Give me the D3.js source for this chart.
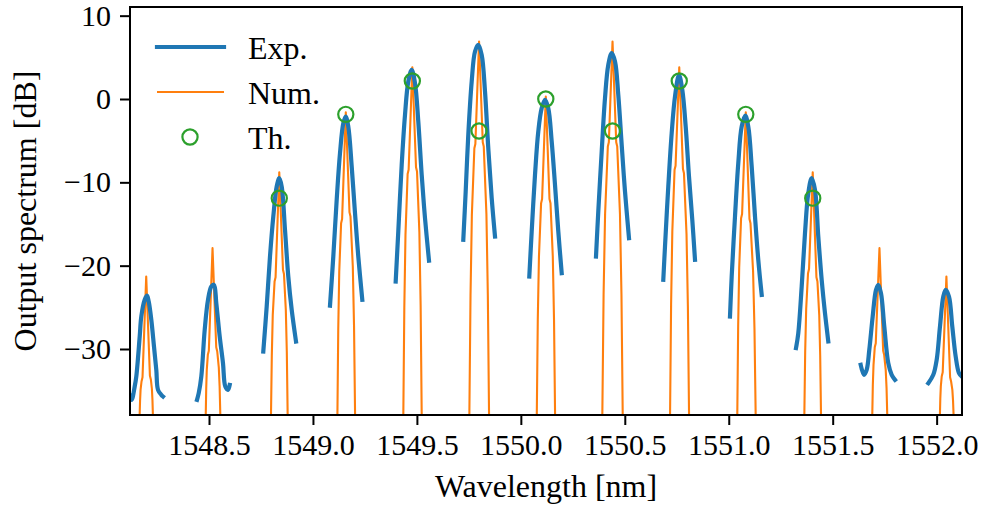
<!DOCTYPE html>
<html><head><meta charset="utf-8">
<script src="https://cdn.jsdelivr.net/npm/d3@7"></script>
<style>
body{margin:0;background:#fff}
svg{display:block}
text{font-family:"Liberation Serif","Times New Roman",serif;fill:#000}
</style>
</head><body>
<svg id="chart" width="988" height="507"></svg>
<script>
// ---------- DATA ----------
const xTicks = [1548.5, 1549.0, 1549.5, 1550.0, 1550.5, 1551.0, 1551.5, 1552.0];
const yTicks = [10, 0, -10, -20, -30];
const seriesNames = ["Exp.", "Num.", "Th."];

// Experimental spectrum: one measured segment around each comb line [wavelength nm, dB]
const expSegments = [
  [[1548.1200,-35.6],[1548.1282,-36.1],[1548.1426,-34.5],[1548.1503,-33.3],[1548.1667,-28.5],[1548.1744,-26.1],[1548.1907,-24.1],[1548.2018,-23.6],[1548.2100,-24.3],[1548.2225,-26.5],[1548.2354,-29.7],[1548.2465,-32.5],[1548.2547,-34.9],[1548.2706,-35.5],[1548.2787,-35.7]],
  [[1548.4423,-36.1],[1548.4505,-35.3],[1548.4630,-33.3],[1548.4793,-27.7],[1548.4952,-24.1],[1548.5111,-22.5],[1548.5241,-22.3],[1548.5351,-24.5],[1548.5515,-28.5],[1548.5673,-31.7],[1548.5784,-34.5],[1548.5914,-34.9],[1548.5996,-34.3]],
  [[1548.7612,-30.3],[1548.7775,-24.9],[1548.7934,-18.9],[1548.8093,-14.1],[1548.8256,-10.5],[1548.8381,-9.5],[1548.8497,-10.5],[1548.8656,-15.7],[1548.8814,-21.3],[1548.8978,-25.3],[1548.9185,-29.1]],
  [[1549.0820,-24.8],[1549.0979,-18.9],[1549.1142,-12.1],[1549.1301,-6.5],[1549.1460,-2.9],[1549.1575,-2.1],[1549.1700,-3.3],[1549.1864,-8.1],[1549.2023,-13.7],[1549.2181,-18.9],[1549.2374,-24.1]],
  [[1549.3980,-21.9],[1549.4105,-15.9],[1549.4269,-7.9],[1549.4428,-1.9],[1549.4586,2.1],[1549.4750,3.5],[1549.4909,1.9],[1549.5067,-2.7],[1549.5231,-9.1],[1549.5390,-14.3],[1549.5582,-19.4]],
  [[1549.7232,-16.9],[1549.7347,-11.1],[1549.7472,-4.3],[1549.7636,2.1],[1549.7795,5.7],[1549.7953,6.5],[1549.8117,5.3],[1549.8276,0.9],[1549.8434,-5.9],[1549.8598,-11.9],[1549.8757,-16.5]],
  [[1550.0407,-21.3],[1550.0522,-15.9],[1550.0681,-9.1],[1550.0839,-3.9],[1550.1003,-1.1],[1550.1162,-0.1],[1550.1320,-1.1],[1550.1484,-5.1],[1550.1643,-10.3],[1550.1802,-15.9],[1550.1965,-20.9]],
  [[1550.3615,-18.9],[1550.3725,-13.5],[1550.3889,-6.3],[1550.4048,0.1],[1550.4206,4.1],[1550.4370,5.5],[1550.4529,4.5],[1550.4687,0.5],[1550.4851,-5.5],[1550.5010,-11.1],[1550.5202,-16.7]],
  [[1550.6852,-21.7],[1550.6934,-17.7],[1550.7092,-10.5],[1550.7256,-4.1],[1550.7415,0.3],[1550.7607,2.9],[1550.7766,1.1],[1550.7929,-3.3],[1550.8088,-9.3],[1550.8247,-14.5],[1550.8377,-19.3]],
  [[1551.0060,-26.1],[1551.0142,-21.3],[1551.0301,-14.1],[1551.0459,-7.7],[1551.0623,-3.3],[1551.0796,-2.0],[1551.0940,-3.3],[1551.1104,-8.1],[1551.1263,-14.1],[1551.1421,-19.3],[1551.1585,-23.5]],
  [[1551.3235,-29.9],[1551.3345,-28.1],[1551.3509,-22.5],[1551.3668,-16.1],[1551.3826,-11.3],[1551.3990,-9.5],[1551.4149,-10.9],[1551.4307,-16.5],[1551.4471,-21.7],[1551.4630,-25.7],[1551.4788,-29.1]],
  [[1551.6347,-31.9],[1551.6506,-33.1],[1551.6635,-32.5],[1551.6761,-30.1],[1551.6924,-26.1],[1551.7083,-22.9],[1551.7193,-22.3],[1551.7323,-23.3],[1551.7482,-27.3],[1551.7674,-31.7],[1551.7838,-33.1],[1551.7997,-33.7]],
  [[1551.9599,-34.1],[1551.9839,-33.1],[1552.0002,-31.3],[1552.0161,-27.3],[1552.0320,-23.7],[1552.0435,-22.9],[1552.0594,-23.7],[1552.0753,-27.3],[1552.0916,-30.9],[1552.1075,-32.9],[1552.1205,-33.3]]
];

// Numerical spectrum (continuous, drops far below the axis between lines)
const numSpectrum = [
  [1548.1638,-44],[1548.1663,-38],[1548.1684,-36.2],[1548.1708,-34.9],[1548.1754,-33.9],[1548.1802,-33.4],[1548.198,-21.3],[1548.2158,-33.2],[1548.2206,-33.7],[1548.2254,-34.8],[1548.2280,-36.1],[1548.2302,-38],[1548.2326,-44],
  [1548.4819,-44],[1548.4843,-38],[1548.4866,-34.7],[1548.4893,-32.5],[1548.4944,-30.7],[1548.4992,-30.2],[1548.517,-17.9],[1548.5348,-29.8],[1548.5396,-30.3],[1548.5471,-32.2],[1548.5511,-34.5],[1548.5545,-38],[1548.5569,-44],
  [1548.7957,-44],[1548.7981,-38],[1548.8021,-30.8],[1548.8067,-25.9],[1548.8154,-21.9],[1548.8202,-21.4],[1548.838,-8.8],[1548.8558,-20.5],[1548.8606,-21.0],[1548.8695,-25.3],[1548.8743,-30.4],[1548.8784,-38],[1548.8808,-44],
  [1549.1152,-44],[1549.1176,-38],[1549.1217,-27.6],[1549.1265,-20.7],[1549.1354,-14.9],[1549.1402,-14.4],[1549.158,-1.6],[1549.1758,-13.6],[1549.1806,-14.1],[1549.1917,-20.1],[1549.1976,-27.2],[1549.2027,-38],[1549.2051,-44],
  [1549.4323,-44],[1549.4347,-38],[1549.4395,-25.0],[1549.4451,-16.3],[1549.4554,-9.0],[1549.4602,-8.5],[1549.478,3.8],[1549.4958,-8.2],[1549.5006,-8.7],[1549.5119,-16.0],[1549.5180,-24.8],[1549.5232,-38],[1549.5256,-44],
  [1549.7499,-44],[1549.7523,-38],[1549.7579,-23.6],[1549.7644,-13.9],[1549.7764,-5.9],[1549.7812,-5.4],[1549.799,6.9],[1549.8168,-5.2],[1549.8216,-5.7],[1549.8344,-13.8],[1549.8412,-23.5],[1549.8471,-38],[1549.8495,-44],
  [1550.0743,-44],[1550.0767,-38],[1550.0815,-26.5],[1550.0871,-18.9],[1550.0974,-12.5],[1550.1022,-12.0],[1550.120,0.3],[1550.1378,-12.0],[1550.1426,-12.5],[1550.1537,-18.9],[1550.1596,-26.5],[1550.1647,-38],[1550.1671,-44],
  [1550.3895,-44],[1550.3919,-38],[1550.3980,-23.5],[1550.4052,-13.8],[1550.4184,-5.7],[1550.4232,-5.2],[1550.441,6.9],[1550.4588,-5.2],[1550.4636,-5.7],[1550.4768,-13.8],[1550.4840,-23.5],[1550.4901,-38],[1550.4925,-44],
  [1550.7153,-44],[1550.7177,-38],[1550.7227,-24.7],[1550.7286,-15.9],[1550.7394,-8.5],[1550.7442,-8.0],[1550.762,3.8],[1550.7798,-8.4],[1550.7846,-8.9],[1550.7969,-16.2],[1550.8035,-24.9],[1550.8091,-38],[1550.8115,-44],
  [1551.0387,-44],[1551.0411,-38],[1551.0453,-27.3],[1551.0503,-20.2],[1551.0594,-14.3],[1551.0642,-13.8],[1551.082,-1.6],[1551.0998,-14.4],[1551.1046,-14.9],[1551.1171,-20.7],[1551.1238,-27.6],[1551.1296,-38],[1551.1320,-44],
  [1551.3612,-44],[1551.3636,-38],[1551.3677,-30.3],[1551.3725,-25.2],[1551.3814,-20.9],[1551.3862,-20.4],[1551.404,-8.8],[1551.4218,-21.4],[1551.4266,-21.9],[1551.4353,-25.9],[1551.4399,-30.8],[1551.4439,-38],[1551.4463,-44],
  [1551.6880,-44],[1551.6904,-38],[1551.6931,-34.3],[1551.6964,-31.9],[1551.7024,-29.8],[1551.7072,-29.3],[1551.725,-17.9],[1551.7428,-30.2],[1551.7476,-30.7],[1551.7551,-32.5],[1551.7591,-34.7],[1551.7625,-38],[1551.7649,-44],
  [1552.0133,-44],[1552.0157,-38],[1552.0177,-35.9],[1552.0201,-34.5],[1552.0244,-33.3],[1552.0292,-32.8],[1552.047,-21.3],[1552.0648,-33.4],[1552.0696,-33.9],[1552.0756,-34.9],[1552.0789,-36.2],[1552.0816,-38],[1552.0840,-44]
];

// Theoretical line powers
const thWavelength = [1548.838, 1549.158, 1549.478, 1549.799, 1550.120, 1550.441, 1550.762, 1551.082, 1551.404];
const thPower      = [-11.9, -1.84, 2.16, -3.84, 0.0, -3.84, 2.16, -1.84, -11.9];

// ---------- STYLE ----------
const C = {exp:"#1f77b4", num:"#ff7f0e", th:"#2ca02c"};
const plot = {left:130, top:7, right:962, bottom:415};

const svg = d3.select("#chart");
const x = d3.scaleLinear().domain([1548.12, 1552.122]).range([plot.left, plot.right]);
const y = d3.scaleLinear().domain([-37.92, 11.04]).range([plot.bottom, plot.top]);

svg.append("defs").append("clipPath").attr("id","clip")
  .append("rect").attr("x",plot.left).attr("y",plot.top)
  .attr("width",plot.right-plot.left).attr("height",plot.bottom-plot.top);

const g = svg.append("g").attr("clip-path","url(#clip)");
const line = d3.line().x(d=>x(d[0])).y(d=>y(d[1]));
const smooth = d3.line().x(d=>x(d[0])).y(d=>y(d[1])).curve(d3.curveCatmullRom.alpha(0.5));

// Num.
g.append("path").datum(numSpectrum).attr("d",line)
  .attr("fill","none").attr("stroke",C.num).attr("stroke-width",2.1)
  .attr("stroke-linejoin","round");

// Exp.
g.selectAll("path.exp").data(expSegments).join("path").attr("class","exp")
  .attr("d",smooth).attr("fill","none").attr("stroke",C.exp)
  .attr("stroke-width",4.2).attr("stroke-linejoin","round").attr("stroke-linecap","square");

// Th.
g.selectAll("circle.th").data(thWavelength).join("circle").attr("class","th")
  .attr("cx",(d)=>x(d)).attr("cy",(d,i)=>y(thPower[i])).attr("r",7.6)
  .attr("fill","none").attr("stroke",C.th).attr("stroke-width",2.2);

// Axes
const fmtY = d => d < 0 ? "\u2212" + Math.abs(d) : String(d);
const xAxis = svg.append("g").attr("transform",`translate(0,${plot.bottom})`)
  .call(d3.axisBottom(x).tickValues(xTicks).tickFormat(d3.format(".1f")).tickSize(10).tickPadding(9));
const yAxis = svg.append("g").attr("transform",`translate(${plot.left},0)`)
  .call(d3.axisLeft(y).tickValues(yTicks).tickFormat(fmtY).tickSize(10).tickPadding(9));
[xAxis,yAxis].forEach(a=>{
  a.select(".domain").remove();
  a.selectAll(".tick line").attr("stroke","#000").attr("stroke-width",2);
  a.selectAll(".tick text").attr("font-size",30).attr("font-family","Liberation Serif, serif").attr("fill","#000");
});

// Frame
svg.append("rect").attr("x",plot.left).attr("y",plot.top)
  .attr("width",plot.right-plot.left).attr("height",plot.bottom-plot.top)
  .attr("fill","none").attr("stroke","#000").attr("stroke-width",2);

// Axis titles
svg.append("text").attr("x",(plot.left+plot.right)/2).attr("y",497)
  .attr("text-anchor","middle").attr("font-size",32).text("Wavelength [nm]");
svg.append("text").attr("transform",`translate(36,${(plot.top+plot.bottom)/2}) rotate(-90)`)
  .attr("text-anchor","middle").attr("font-size",32).text("Output spectrum [dB]");

// Legend
const lg = svg.append("g");
const rows = [47, 92, 137];
lg.append("line").attr("x1",157).attr("x2",224).attr("y1",rows[0]).attr("y2",rows[0])
  .attr("stroke",C.exp).attr("stroke-width",4.2).attr("stroke-linecap","square");
lg.append("line").attr("x1",157).attr("x2",224).attr("y1",rows[1]).attr("y2",rows[1])
  .attr("stroke",C.num).attr("stroke-width",2.1);
lg.append("circle").attr("cx",190).attr("cy",rows[2]).attr("r",7.6)
  .attr("fill","none").attr("stroke",C.th).attr("stroke-width",2.2);
seriesNames.forEach((n,i)=>{
  lg.append("text").attr("x",248).attr("y",rows[i]+11.5).attr("font-size",32).text(n);
});
</script>
</body></html>
